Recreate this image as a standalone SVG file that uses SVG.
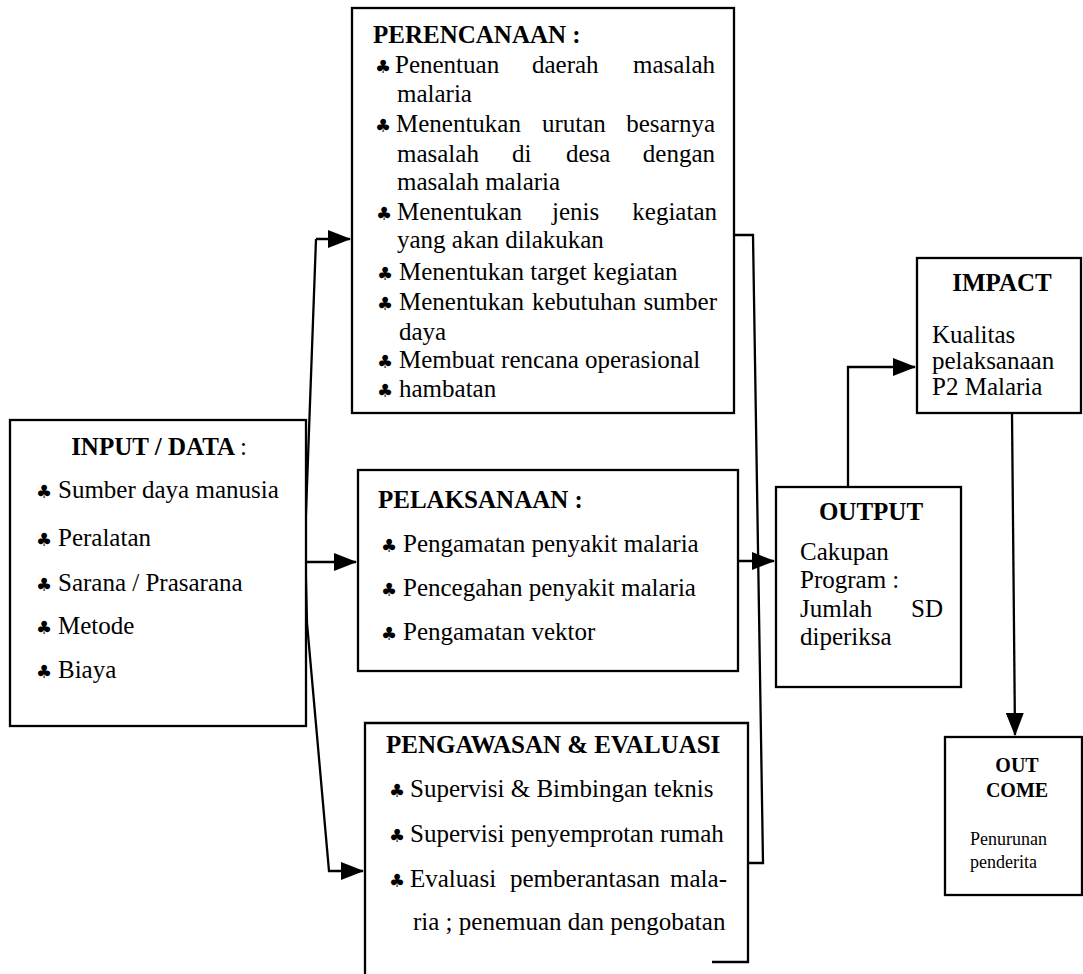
<svg xmlns="http://www.w3.org/2000/svg" width="1083" height="974" viewBox="0 0 1083 974">
<style>
.box{fill:#fff;stroke:#000;stroke-width:2.3}
.ln{fill:none;stroke:#000;stroke-width:2.3}
text{font-family:"Liberation Serif","DejaVu Serif",serif;font-size:25px;fill:#000}
.t{font-weight:bold}
.b{font-family:"DejaVu Sans","DejaVu Serif",sans-serif;font-size:18px}
.s{font-size:20px}
.sm{font-size:18px}
</style>
<defs>
<marker id="ah" markerUnits="userSpaceOnUse" markerWidth="23" markerHeight="18" refX="22" refY="9" orient="auto">
<path d="M0,0 L23,9 L0,18 z" fill="#000"/>
</marker>
</defs>
<rect width="1083" height="974" fill="#fff"/>
<g id="connectors">
<path class="ln" d="M316,239 H350" marker-end="url(#ah)"/>
<path class="ln" d="M316,239 L305,540 L307,623 L329,871 H363" marker-end="url(#ah)"/>
<path class="ln" d="M306,562 H356" marker-end="url(#ah)"/>
<path class="ln" d="M734,235 H753 L763,863 H749"/>
<path class="ln" d="M738,561 H774" marker-end="url(#ah)"/>
<path class="ln" d="M848,487 V367 H915" marker-end="url(#ah)"/>
<path class="ln" d="M1012,413 L1015,735" marker-end="url(#ah)"/>
</g>
<g id="input">
<rect class="box" x="10" y="420" width="296" height="306"/>
<text class="t" x="159" y="455" text-anchor="middle">INPUT / DATA <tspan font-weight="normal">:</tspan></text>
<text y="498"><tspan class="b" x="36">♣</tspan><tspan x="58">Sumber daya manusia</tspan></text>
<text y="546"><tspan class="b" x="36">♣</tspan><tspan x="58">Peralatan</tspan></text>
<text y="591"><tspan class="b" x="36">♣</tspan><tspan x="58">Sarana / Prasarana</tspan></text>
<text y="634"><tspan class="b" x="36">♣</tspan><tspan x="58">Metode</tspan></text>
<text y="678"><tspan class="b" x="36">♣</tspan><tspan x="58">Biaya</tspan></text>
</g>
<g id="perencanaan">
<rect class="box" x="352" y="8" width="382" height="405"/>
<text class="t" x="373" y="43">PERENCANAAN :</text>
<text y="73"><tspan class="b" x="375">♣</tspan><tspan x="395">Penentuan</tspan><tspan x="532">daerah</tspan><tspan x="715" text-anchor="end">masalah</tspan></text>
<text x="397" y="102">malaria</text>
<text y="132"><tspan class="b" x="375">♣</tspan><tspan x="396">Menentukan</tspan><tspan x="542">urutan</tspan><tspan x="715" text-anchor="end">besarnya</tspan></text>
<text x="397" y="162">masalah<tspan x="512">di</tspan><tspan x="566">desa</tspan><tspan x="715" text-anchor="end">dengan</tspan></text>
<text x="397" y="190">masalah malaria</text>
<text y="220"><tspan class="b" x="376">♣</tspan><tspan x="397">Menentukan</tspan><tspan x="552">jenis</tspan><tspan x="717" text-anchor="end">kegiatan</tspan></text>
<text x="397" y="248">yang akan dilakukan</text>
<text y="280"><tspan class="b" x="377">♣</tspan><tspan x="399">Menentukan target kegiatan</tspan></text>
<text y="310"><tspan class="b" x="377">♣</tspan><tspan x="399">Menentukan</tspan><tspan x="532">kebutuhan</tspan><tspan x="717" text-anchor="end">sumber</tspan></text>
<text x="399" y="340">daya</text>
<text y="368"><tspan class="b" x="377">♣</tspan><tspan x="399">Membuat rencana operasional</tspan></text>
<text y="397"><tspan class="b" x="377">♣</tspan><tspan x="399">hambatan</tspan></text>
</g>
<g id="pelaksanaan">
<rect class="box" x="358" y="470" width="380" height="201"/>
<text class="t" x="378" y="508">PELAKSANAAN :</text>
<text y="552"><tspan class="b" x="381">♣</tspan><tspan x="403">Pengamatan penyakit malaria</tspan></text>
<text y="596"><tspan class="b" x="381">♣</tspan><tspan x="403">Pencegahan penyakit malaria</tspan></text>
<text y="640"><tspan class="b" x="381">♣</tspan><tspan x="403">Pengamatan vektor</tspan></text>
</g>
<g id="pengawasan">
<path class="ln" d="M365,974 V723 H748 V962 H712"/>
<text class="t" x="386" y="753">PENGAWASAN &amp; EVALUASI</text>
<text y="797"><tspan class="b" x="389">♣</tspan><tspan x="410">Supervisi &amp; Bimbingan teknis</tspan></text>
<text y="842"><tspan class="b" x="389">♣</tspan><tspan x="410">Supervisi penyemprotan rumah</tspan></text>
<text y="887"><tspan class="b" x="389">♣</tspan><tspan x="410">Evaluasi</tspan><tspan x="510">pemberantasan</tspan><tspan x="727" text-anchor="end">mala-</tspan></text>
<text x="413" y="930">ria ; penemuan dan pengobatan</text>
</g>
<g id="output">
<rect class="box" x="776" y="487" width="185" height="200"/>
<text class="t" x="871" y="520" text-anchor="middle">OUTPUT</text>
<text x="800" y="560">Cakupan</text>
<text x="800" y="588">Program :</text>
<text x="800" y="617">Jumlah<tspan x="943" text-anchor="end">SD</tspan></text>
<text x="800" y="645">diperiksa</text>
</g>
<g id="impact">
<rect class="box" x="917" y="258" width="164" height="155"/>
<text class="t" x="1002" y="291" text-anchor="middle">IMPACT</text>
<text x="932" y="343">Kualitas</text>
<text x="932" y="369">pelaksanaan</text>
<text x="932" y="395">P2 Malaria</text>
</g>
<g id="outcome">
<rect class="box" x="945" y="737" width="137" height="158"/>
<text class="t s" x="1017" y="772" text-anchor="middle">OUT</text>
<text class="t s" x="1017" y="797" text-anchor="middle">COME</text>
<text class="sm" x="970" y="845">Penurunan</text>
<text class="sm" x="970" y="868">penderita</text>
</g>
</svg>
